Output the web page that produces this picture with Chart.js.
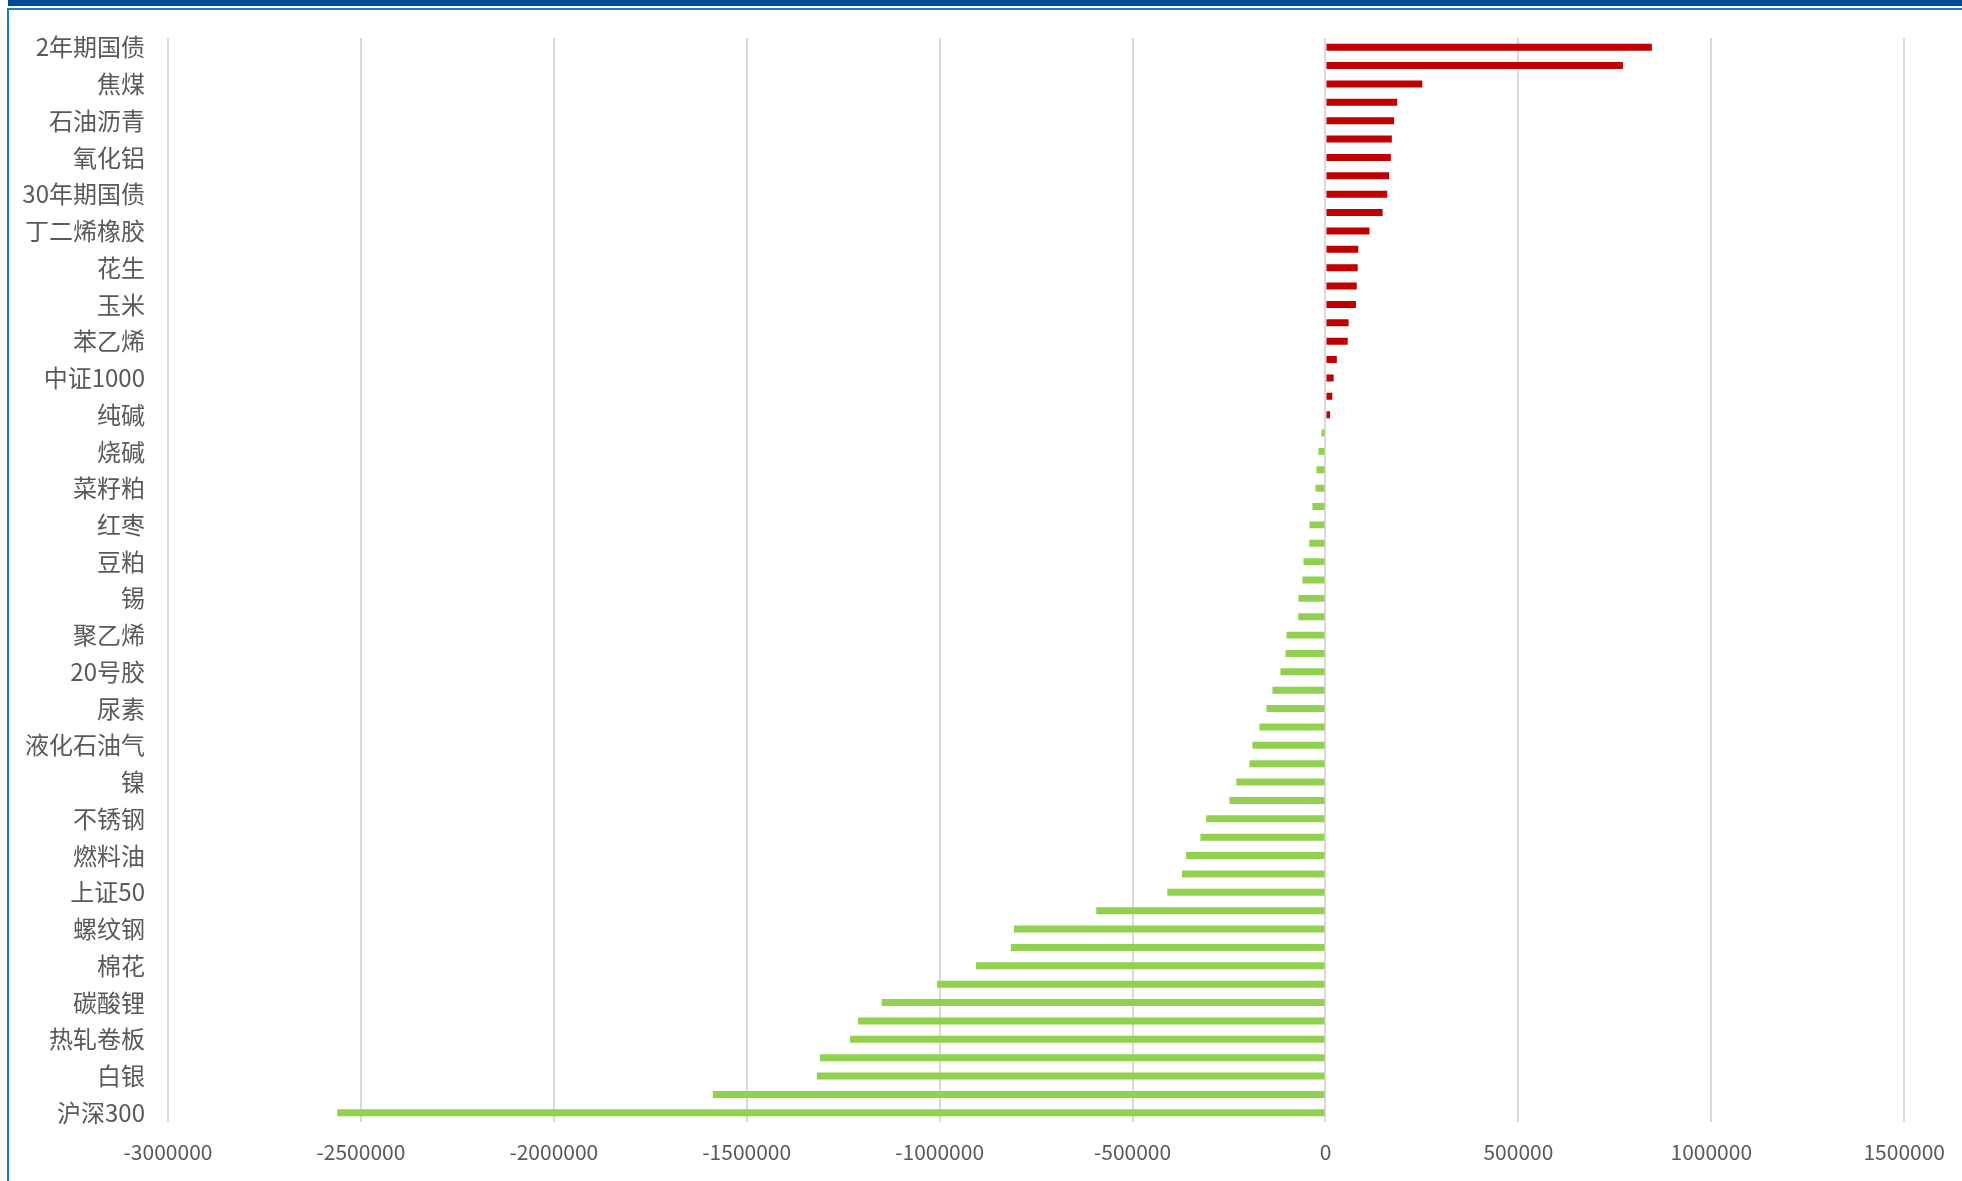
<!DOCTYPE html>
<html>
<head>
<meta charset="utf-8">
<script src="https://cdn.jsdelivr.net/npm/chart.js@4.4.1/dist/chart.umd.min.js"></script>
<style>
  html, body { margin: 0; padding: 0; background: #fff; overflow: hidden; }
  #wrap { position: relative; width: 1962px; height: 1181px; }
  canvas { position: absolute; left: 0; top: 0; }
  .topband { position: absolute; left: 8px; top: 0; width: 1954px; height: 6px; background: #004a93; }
  .topline { position: absolute; left: 7px; top: 8px; width: 1955px; height: 2px; background: #1f7ac6; }
  .leftline { position: absolute; left: 7px; top: 8px; width: 2px; height: 1173px; background: #1f7ac6; }
</style>
</head>
<body>
<div id="wrap">
  <canvas id="posChart" width="1962" height="1181"></canvas>
  <div class="topband"></div>
  <div class="topline"></div>
  <div class="leftline"></div>
</div>
<script>
  // 品种（从上到下）
  const products = [
    '2年期国债', '10年期国债', '焦煤', '焦炭', '石油沥青', '铁矿石', '氧化铝', '5年期国债',
    '30年期国债', '甲醇', '丁二烯橡胶', '玻璃', '花生', '硅铁', '玉米', '锰硅',
    '苯乙烯', '乙二醇', '中证1000', '短纤', '纯碱', '对二甲苯', '烧碱', '棕榈油',
    '菜籽粕', '豆油', '红枣', '菜籽油', '豆粕', '苹果', '锡', '白糖',
    '聚乙烯', '生猪', '20号胶', '鸡蛋', '尿素', '聚丙烯', '液化石油气', 'PVC',
    '镍', '纸浆', '不锈钢', '沪铅', '燃料油', '沪锌', '上证50', '工业硅',
    '螺纹钢', '沪铝', '棉花', '原油', '碳酸锂', '中证500', '热轧卷板', '黄金',
    '白银', '沪铜', '沪深300'
  ];

  // 持仓变化
  const changes = [
    846000, 771000, 251000, 186000, 178000, 172000, 169500, 165000,
    160000, 148000, 114000, 85000, 83600, 81000, 79000, 60000,
    57700, 29400, 21200, 17700, 12000, -10400, -18200, -23300,
    -25900, -33700, -41500, -42000, -57000, -59600, -70000, -70500,
    -101000, -103700, -116700, -137400, -153000, -171100, -189300, -197100,
    -231000, -249000, -309200, -324300, -361400, -371800, -410000, -594200,
    -807300, -815400, -905700, -1006500, -1150100, -1211500, -1232300, -1310000,
    -1318100, -1588000, -2561000
  ];

  // x axis ticks
  const xMin = -3000000;
  const xMax = 1500000;
  const xStep = 500000;

  const upColor = '#c00000';
  const downColor = '#92d050';
  const textColor = '#595959';
  const fontFamily = '"Noto Sans CJK SC", "Noto Sans", sans-serif';

  const ctx = document.getElementById('posChart').getContext('2d');
  const posChart = new Chart(ctx, {
    type: 'bar',
    data: {
      labels: products,
      datasets: [{
        data: changes,
        backgroundColor: changes.map(v => v >= 0 ? upColor : downColor),
        borderWidth: 0,
        barPercentage: 0.38,
        categoryPercentage: 1.0
      }]
    },
    options: {
      indexAxis: 'y',
      responsive: false,
      animation: false,
      devicePixelRatio: 1,
      layout: { padding: { top: 38, right: 50, left: 0, bottom: 0 } },
      plugins: {
        legend: { display: false },
        tooltip: { enabled: false }
      },
      scales: {
        x: {
          min: xMin,
          max: xMax,
          border: { display: false },
          grid: { color: '#d9d9d9', lineWidth: 2, drawTicks: false },
          ticks: {
            stepSize: xStep,
            padding: 17,
            color: textColor,
            font: { family: fontFamily, size: 21 },
            maxRotation: 0,
            callback: function(value) { return String(value); }
          },
          afterFit: function(scale) { scale.height = 59; }
        },
        y: {
          border: { display: false },
          grid: { display: false, drawTicks: false },
          ticks: {
            autoSkip: false,
            padding: 23,
            color: textColor,
            font: { family: fontFamily, size: 24 },
            callback: function(value, index) {
              // every other label is shown, like the source chart
              return index % 2 === 0 ? this.getLabelForValue(value) : '';
            }
          },
          afterFit: function(scale) { scale.width = 168; }
        }
      }
    }
  });
</script>
</body>
</html>
